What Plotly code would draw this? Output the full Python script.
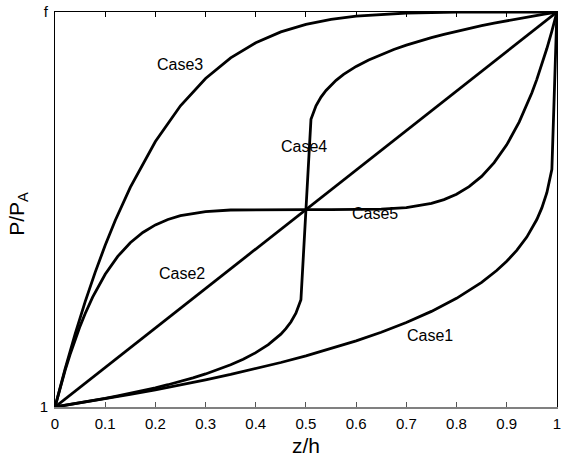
import plotly.graph_objects as go

# ---- data ----
case1_x = [0, 0.05, 0.1, 0.15, 0.2, 0.25, 0.3, 0.35, 0.4, 0.45, 0.5, 0.55, 0.6, 0.65, 0.7,
           0.75, 0.8, 0.85, 0.88, 0.9, 0.92, 0.94, 0.95, 0.96, 0.97, 0.98, 0.99, 1.0]
case1_y = [0, 0.0102, 0.0209, 0.0320, 0.0436, 0.0559, 0.0689, 0.0825, 0.0971, 0.1127, 0.1294,
           0.1476, 0.1674, 0.1894, 0.2140, 0.2421, 0.2752, 0.3157, 0.3456, 0.3690, 0.3966,
           0.4303, 0.4507, 0.4747, 0.5041, 0.5427, 0.6019, 1.0]

case2_x = [0, 1.0]
case2_y = [0, 1.0]

case3_x = [0, 0.01, 0.02, 0.04, 0.06, 0.08, 0.1, 0.12, 0.15, 0.2, 0.25, 0.3, 0.35, 0.4,
           0.45, 0.5, 0.55, 0.6, 0.7, 0.8, 0.9, 1.0]
case3_y = [0, 0.0490, 0.0961, 0.1846, 0.2661, 0.3409, 0.4095, 0.4723, 0.5563, 0.6723, 0.7627,
           0.8319, 0.8840, 0.9222, 0.9497, 0.9688, 0.9815, 0.9898, 0.9976, 0.9997, 1.0, 1.0]

case4_x = [0, 0.025, 0.05, 0.075, 0.1, 0.125, 0.15, 0.175, 0.2, 0.225, 0.25, 0.275, 0.3,
           0.325, 0.35, 0.375, 0.4, 0.425, 0.44, 0.45, 0.46, 0.47, 0.48, 0.49, 0.5,
           0.51, 0.52, 0.53, 0.54, 0.55, 0.56, 0.575, 0.6, 0.625, 0.65, 0.675, 0.7, 0.725,
           0.75, 0.775, 0.8, 0.825, 0.85, 0.875, 0.9, 0.925, 0.95, 0.975, 1.0]
case4_y = [0, 0.0051, 0.0104, 0.0160, 0.0218, 0.0280, 0.0344, 0.0413, 0.0486, 0.0564, 0.0647,
           0.0738, 0.0837, 0.0947, 0.1070, 0.1211, 0.1376, 0.1579, 0.1728, 0.1845, 0.1983,
           0.2152, 0.2374, 0.2714, 0.5,
           0.7286, 0.7626, 0.7848, 0.8017, 0.8155, 0.8272, 0.8421, 0.8624, 0.8789, 0.8930,
           0.9053, 0.9163, 0.9262, 0.9353, 0.9436, 0.9514, 0.9587, 0.9656, 0.9720, 0.9782,
           0.9840, 0.9896, 0.9949, 1.0]

case5_x = [0, 0.005, 0.01, 0.02, 0.03, 0.04, 0.05, 0.06, 0.075, 0.1, 0.125, 0.15, 0.175, 0.2,
           0.225, 0.25, 0.3, 0.35, 0.4, 0.45, 0.5, 0.55, 0.6, 0.65, 0.7, 0.75, 0.775, 0.8,
           0.825, 0.85, 0.875, 0.9, 0.925, 0.94, 0.95, 0.96, 0.97, 0.98, 0.99, 0.995, 1.0]
case5_y = [0, 0.0245, 0.0481, 0.0923, 0.1330, 0.1704, 0.2048, 0.2361, 0.2781, 0.3362, 0.3813,
           0.4160, 0.4420, 0.4611, 0.4748, 0.4844, 0.4949, 0.4988, 0.4998, 0.5000, 0.5000,
           0.5000, 0.5002, 0.5012, 0.5051, 0.5156, 0.5252, 0.5389, 0.5580, 0.5840, 0.6187,
           0.6638, 0.7219, 0.7639, 0.7952, 0.8296, 0.8670, 0.9077, 0.9519, 0.9755, 1.0]

series = [(case1_x, case1_y), (case2_x, case2_y), (case3_x, case3_y),
          (case4_x, case4_y), (case5_x, case5_y)]

label_text = ["Case1", "Case2", "Case3", "Case4", "Case5"]
label_x = [0.747, 0.253, 0.25, 0.496, 0.638]
label_y = [0.182, 0.338, 0.868, 0.659, 0.489]

x_ticks = [0, 0.1, 0.2, 0.3, 0.4, 0.5, 0.6, 0.7, 0.8, 0.9, 1]
x_tick_text = ["0", "0.1", "0.2", "0.3", "0.4", "0.5", "0.6", "0.7", "0.8", "0.9", "1"]
y_ticks = [0, 1]
y_tick_text = ["1", "f"]

FONT = "Liberation Sans, Arial, sans-serif"
XR = [0, 1.0002]
YR = [0, 1.0002]

fig = go.Figure()
for xs, ys in series:
    fig.add_trace(go.Scatter(x=xs, y=ys, mode="lines",
                             line=dict(color="black", width=2.8),
                             showlegend=False, hoverinfo="skip"))

# invisible trace for top axis
fig.add_trace(go.Scatter(x=[0, 1], y=[0, 1], xaxis="x2", mode="lines",
                         line=dict(width=0), showlegend=False, hoverinfo="skip"))

for t, lx, ly in zip(label_text, label_x, label_y):
    fig.add_annotation(x=lx, y=ly, text=t, showarrow=False,
                       font=dict(family=FONT, size=16, color="black"))

fig.add_annotation(xref="paper", yref="paper", x=0.5, y=-0.097, yanchor="middle",
                   text="z/h", showarrow=False,
                   font=dict(family=FONT, size=21, color="black"))
fig.add_annotation(xref="paper", yref="paper", x=-0.073, y=0.49, xanchor="center",
                   yanchor="middle",
                   text="P/P<sub>A</sub>", textangle=-90, showarrow=False,
                   font=dict(family=FONT, size=21, color="black"))

fig.update_layout(
    template="none",
    width=564, height=456,
    margin=dict(l=55, r=7, t=12, b=49, autoexpand=False),
    plot_bgcolor="white", paper_bgcolor="white",
    font=dict(family=FONT, size=15, color="black"),
    xaxis=dict(range=XR, tickvals=x_ticks, ticktext=x_tick_text, automargin=False,
               ticks="inside", ticklen=5, tickcolor="#555", tickwidth=1,
               showline=True, linecolor="#808080", linewidth=2, mirror=False,
               showgrid=False, zeroline=False, ticklabelstandoff=2),
    xaxis2=dict(range=XR, overlaying="x", side="top", tickvals=x_ticks, automargin=False,
                ticks="inside", ticklen=5, tickcolor="black", tickwidth=1,
                showticklabels=False, showline=True, linecolor="black", linewidth=1,
                showgrid=False, zeroline=False),
    yaxis=dict(range=YR, tickvals=y_ticks, ticktext=y_tick_text, automargin=False,
               ticks="", showline=True, linecolor="black", linewidth=1, mirror=True,
               showgrid=False, zeroline=False, ticklabelstandoff=3),
)

fig.write_html("out.html", config={"displayModeBar": False},
               post_script="document.body.style.margin='0';document.body.style.padding='0';")
